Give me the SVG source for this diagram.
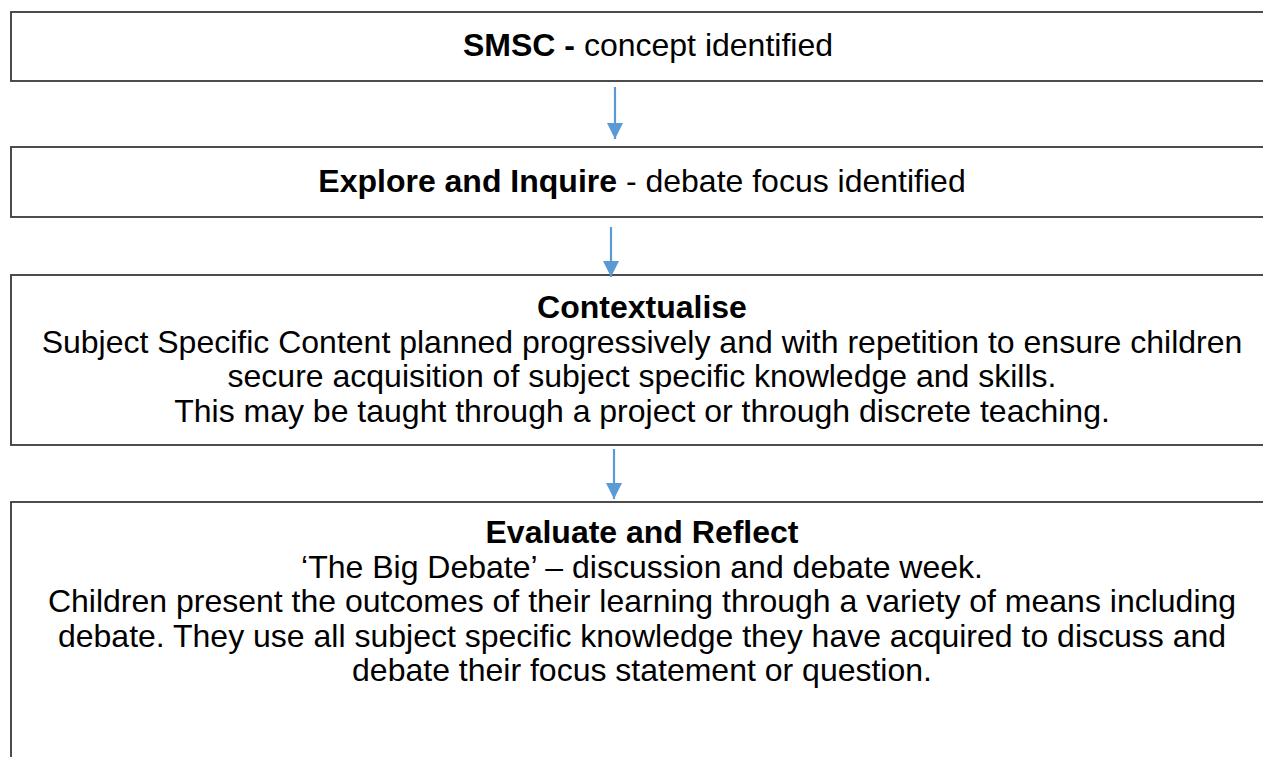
<svg xmlns="http://www.w3.org/2000/svg" width="1263" height="757" viewBox="0 0 1263 757">
  <style>
    .box { fill: #ffffff; stroke: #3a3a3a; stroke-width: 1.8; }
    .t { font-family: "Liberation Sans", Arial, sans-serif; font-size: 32px; fill: #000000; text-anchor: middle; }
    .b { font-weight: bold; }
    .arrow { stroke: #5B9BD5; stroke-width: 2.2; fill: none; }
  </style>
  <defs>
    <marker id="head" markerUnits="userSpaceOnUse" markerWidth="16" markerHeight="16" viewBox="0 0 16 16" refX="16" refY="8" orient="auto">
      <path d="M0,0 L16,8 L0,16 Z" fill="#5B9BD5"/>
    </marker>
  </defs>
  <rect width="1263" height="757" fill="#ffffff"/>

  <g id="step-smsc">
    <rect class="box" x="11" y="12" width="1270" height="69"/>
    <text class="t" x="648" y="56"><tspan class="b">SMSC -</tspan> concept identified</text>
  </g>

  <g id="step-explore">
    <rect class="box" x="11" y="147" width="1270" height="70"/>
    <text class="t" x="642" y="192"><tspan class="b">Explore and Inquire</tspan> - debate focus identified</text>
  </g>

  <g id="step-contextualise">
    <rect class="box" x="11" y="275" width="1270" height="170"/>
    <text class="t b" x="642" y="318">Contextualise</text>
    <text class="t" x="642" y="352.5">Subject Specific Content planned progressively and with repetition to ensure children</text>
    <text class="t" x="642" y="387">secure acquisition of subject specific knowledge and skills.</text>
    <text class="t" x="642" y="421.5">This may be taught through a project or through discrete teaching.</text>
  </g>

  <g id="step-evaluate">
    <rect class="box" x="11" y="502" width="1270" height="270"/>
    <text class="t b" x="642" y="543">Evaluate and Reflect</text>
    <text class="t" x="642" y="577.5">‘The Big Debate’ – discussion and debate week.</text>
    <text class="t" x="642" y="612">Children present the outcomes of their learning through a variety of means including</text>
    <text class="t" x="642" y="646.5">debate. They use all subject specific knowledge they have acquired to discuss and</text>
    <text class="t" x="642" y="681">debate their focus statement or question.</text>
  </g>

  <g id="connectors">
    <line class="arrow" x1="615" y1="87" x2="615" y2="139" marker-end="url(#head)"/>
    <line class="arrow" x1="611" y1="227" x2="611" y2="277" marker-end="url(#head)"/>
    <line class="arrow" x1="614" y1="449" x2="614" y2="499" marker-end="url(#head)"/>
  </g>
</svg>
